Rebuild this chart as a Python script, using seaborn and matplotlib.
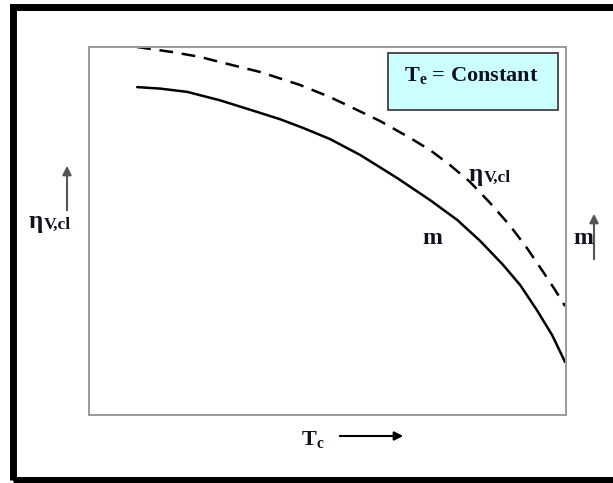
import numpy as np
import pandas as pd
import seaborn as sns
import matplotlib.pyplot as plt
from matplotlib.patches import Rectangle

# values (arbitrary units, axes 0..10)
tc_dashed = [1.01, 1.76, 2.33, 2.75, 3.59, 4.42, 5.05, 5.41, 6.10, 6.73,
             7.15, 7.57, 7.99, 8.41, 8.83, 9.18, 9.52, 9.77, 9.98]
eta_dashed = [10.0, 9.86, 9.73, 9.59, 9.32, 8.97, 8.64, 8.42, 7.99, 7.53,
              7.20, 6.79, 6.33, 5.76, 5.14, 4.54, 3.89, 3.40, 2.96]
tc_solid = [1.01, 1.49, 2.06, 2.75, 3.44, 4.00, 4.49, 5.05, 5.68, 6.46,
            7.15, 7.72, 8.20, 8.68, 9.04, 9.39, 9.71, 9.98]
m_solid = [8.91, 8.87, 8.78, 8.55, 8.27, 8.04, 7.80, 7.50, 7.07, 6.44,
           5.84, 5.30, 4.73, 4.08, 3.53, 2.85, 2.17, 1.44]

sns.set_theme(style="white")
plt.rcParams['font.family'] = ['Liberation Serif', 'DejaVu Serif']
plt.rcParams['mathtext.fontset'] = 'custom'
plt.rcParams['mathtext.rm'] = 'Liberation Serif'
plt.rcParams['mathtext.bf'] = 'Liberation Serif:bold'

W, H = 613, 483
fig = plt.figure(figsize=(W / 100, H / 100), dpi=100)
ax = fig.add_axes([89 / W, 1 - 415 / H, (566 - 89) / W, (415 - 47) / H])

df_d = pd.DataFrame({'Tc': tc_dashed, 'val': eta_dashed})
df_s = pd.DataFrame({'Tc': tc_solid, 'val': m_solid})
sns.lineplot(data=df_d, x='Tc', y='val', ax=ax, color='black', lw=1.8,
             linestyle=(0, (5.5, 3.5)), clip_on=False)
sns.lineplot(data=df_s, x='Tc', y='val', ax=ax, color='black', lw=1.8, clip_on=False)

ax.set_xlim(0, 10)
ax.set_ylim(0, 10)
ax.set_xticks([])
ax.set_yticks([])
ax.set_xlabel('')
ax.set_ylabel('')
for sp in ax.spines.values():
    sp.set_color('#9a9a9a')
    sp.set_linewidth(1.4)


def fx(px):
    return px / W


def fy(py):
    return 1 - py / H


# boxed note
ax.add_patch(Rectangle((fx(388), fy(110)), (558 - 388) / W, (110 - 53) / H,
                       transform=fig.transFigure, facecolor='#ccffff',
                       edgecolor='#404040', lw=1.3, zorder=3))
fig.text(fx(471), fy(76), r'$\mathbf{T_e}$ = Constant', fontsize=16,
         fontweight='bold', ha='center', va='center', zorder=4, color='#111122')

tc = dict(fontweight='bold', color='#111122')


def eta_label(px, py):
    # py is the baseline of the eta glyph
    fig.text(fx(px), fy(py), 'η', ha='left', va='baseline', fontsize=18, **tc)
    fig.text(fx(px + 15), fy(py + 1), 'V,cl', ha='left', va='baseline', fontsize=12.5, **tc)


eta_label(469, 181)
eta_label(29, 228)
fig.text(fx(432), fy(239), 'm', ha='center', va='center', fontsize=17, **tc)
fig.text(fx(583), fy(239), 'm', ha='center', va='center', fontsize=17, **tc)
fig.text(fx(301), fy(439), r'$\mathbf{T_c}$', ha='left', va='center', fontsize=16, **tc)

arrow = dict(arrowstyle='-|>', lw=1.5, mutation_scale=13)
ax.annotate('', xy=(fx(67), fy(163)), xytext=(fx(67), fy(213)),
            xycoords='figure fraction', arrowprops=dict(color='#555555', **arrow))
ax.annotate('', xy=(fx(594), fy(211)), xytext=(fx(594), fy(262)),
            xycoords='figure fraction', arrowprops=dict(color='#555555', **arrow))
ax.annotate('', xy=(fx(406), fy(436)), xytext=(fx(337), fy(436)),
            xycoords='figure fraction', arrowprops=dict(color='black', **arrow))

# thick outer frame (right edge falls outside the picture)
fig.add_artist(Rectangle((fx(13), fy(479.5)), (625 - 13) / W, (479.5 - 6.5) / H,
                         transform=fig.transFigure, fill=False, edgecolor='black',
                         lw=5.0))

fig.savefig('out.png', dpi=100)
